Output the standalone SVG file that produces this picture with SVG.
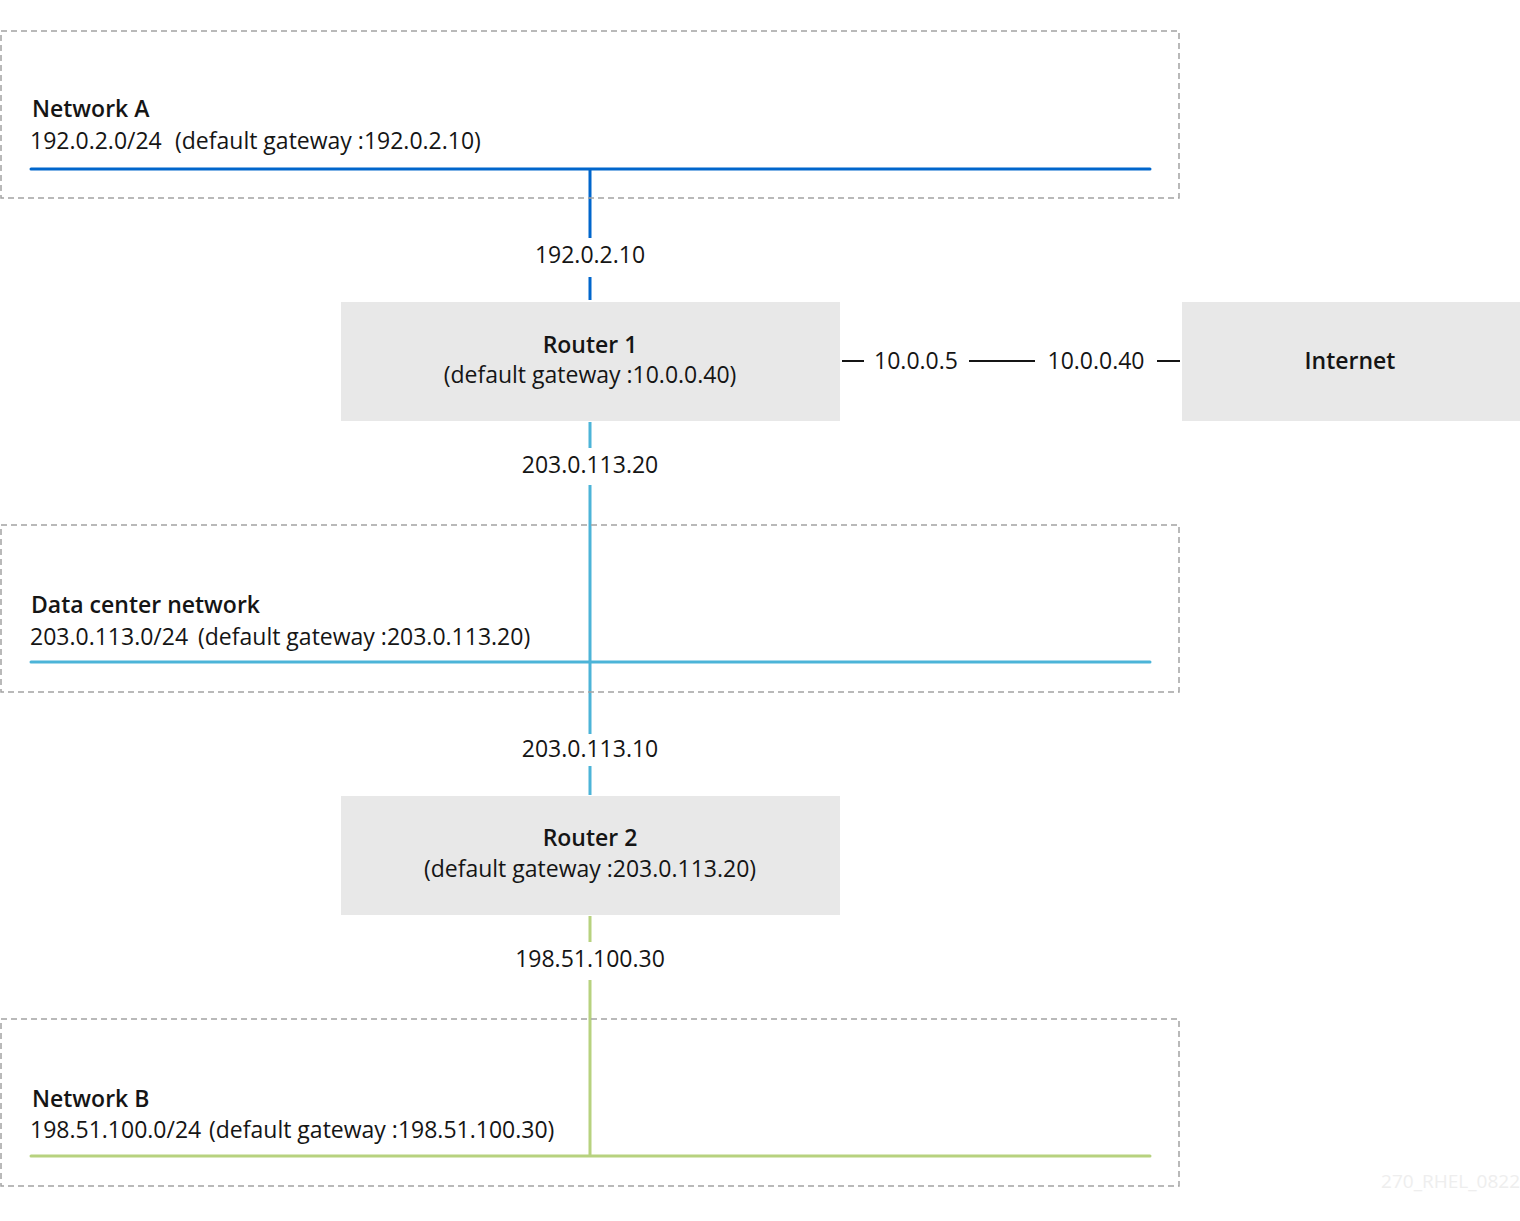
<svg xmlns="http://www.w3.org/2000/svg" width="1520" height="1221" viewBox="0 0 1520 1221">
<style>
.box{fill:none;stroke:#a3a3a3;stroke-width:1.5;stroke-dasharray:6,4}
.node{fill:#e8e8e8}
text{font-family:"Open Sans","Noto Sans",sans-serif;fill:#151515;font-size:23px}
.b{font-weight:600}
.m{text-anchor:middle}
</style>
<rect width="1520" height="1221" fill="#fff"/>
<g id="connectors" fill="none" stroke-width="3">
<path d="M590 170V238M590 277V300" stroke="#0066cc"/>
<path d="M31 169H1150" stroke="#0066cc" stroke-linecap="round"/>
<path d="M590 422V448M590 485V734M590 766V795" stroke="#4cb4d8"/>
<path d="M31 662H1150" stroke="#4cb4d8" stroke-linecap="round"/>
<path d="M590 916V942M590 980V1155" stroke="#b7d27f"/>
<path d="M31 1156H1150" stroke="#b7d27f" stroke-linecap="round"/>
<path d="M842 361H864M969 361H1035M1157 361H1180" stroke="#151515" stroke-width="2"/>
</g>
<g id="networkA"><rect class="box" x="1" y="31" width="1178" height="167"/>
<text x="32" y="117" class="b">Network A</text>
<text x="30" y="149">192.0.2.0/24</text><text x="175" y="149">(default gateway :192.0.2.10)</text></g>
<text x="590" y="263" class="m">192.0.2.10</text>
<g id="router1"><rect class="node" x="341" y="302" width="499" height="119"/>
<text x="590" y="353" class="m b">Router 1</text>
<text x="590" y="383" class="m">(default gateway :10.0.0.40)</text></g>
<text x="916" y="369" class="m">10.0.0.5</text>
<text x="1096" y="369" class="m">10.0.0.40</text>
<g id="internet"><rect class="node" x="1182" y="302" width="338" height="119"/>
<text x="1350" y="369" class="m b">Internet</text></g>
<text x="590" y="473" class="m">203.0.113.20</text>
<g id="datacenter"><rect class="box" x="1" y="525" width="1178" height="167"/>
<text x="31" y="613" style="font-weight:600">Data center network</text>
<text x="30" y="645">203.0.113.0/24</text><text x="198" y="645">(default gateway :203.0.113.20)</text></g>
<text x="590" y="757" class="m">203.0.113.10</text>
<g id="router2"><rect class="node" x="341" y="796" width="499" height="119"/>
<text x="590" y="846" class="m b">Router 2</text>
<text x="590" y="877" class="m">(default gateway :203.0.113.20)</text></g>
<text x="590" y="967" class="m">198.51.100.30</text>
<g id="networkB"><rect class="box" x="1" y="1019" width="1178" height="167"/>
<text x="32" y="1107" class="b">Network B</text>
<text x="30" y="1138">198.51.100.0/24</text><text x="209" y="1138">(default gateway :198.51.100.30)</text></g>
<text x="1520" y="1188" text-anchor="end" style="fill:#eeeeee;font-size:19px">270_RHEL_0822</text>
</svg>
